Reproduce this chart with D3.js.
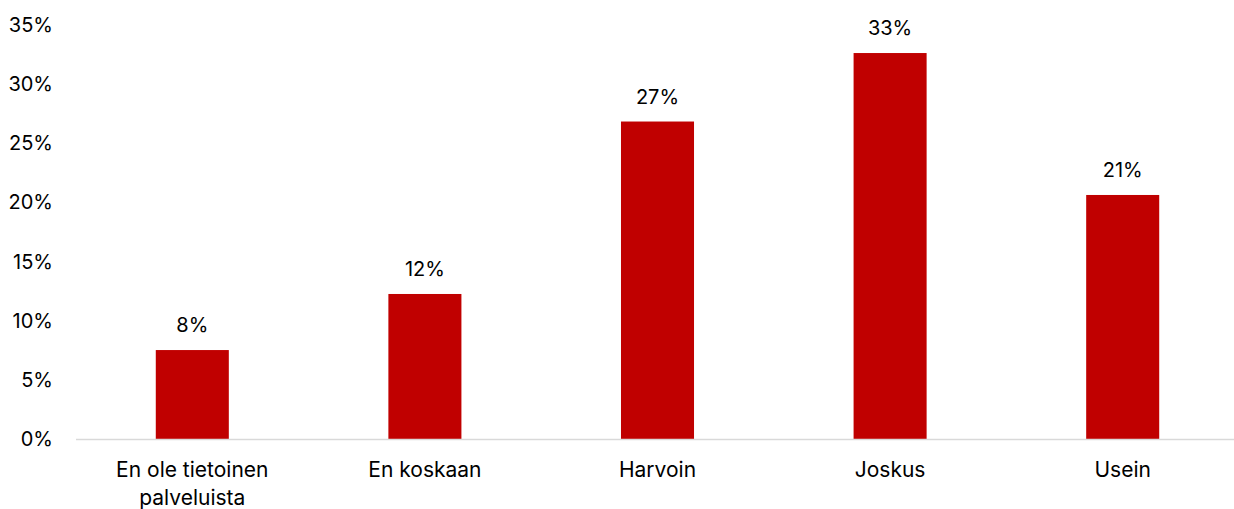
<!DOCTYPE html>
<html>
<head>
<meta charset="utf-8">
<script src="https://cdn.jsdelivr.net/npm/d3@7"></script>
<style>
  html, body { margin: 0; padding: 0; background: #fff; }
  svg { display: block; }
  text { font-family: Inter, "Liberation Sans", Arial, sans-serif; fill: #000; }
</style>
</head>
<body>
<svg id="chart" width="1234" height="509"></svg>
<script>
// Survey answers: how often the services are used
const categories = [["En ole tietoinen", "palveluista"], ["En koskaan"], ["Harvoin"], ["Joskus"], ["Usein"]];
const values = [0.0752, 0.1226, 0.2684, 0.3263, 0.2063];
const tickValues = [0, 0.05, 0.10, 0.15, 0.20, 0.25, 0.30, 0.35];

const svg = d3.select("#chart");
const W = 1234;

const x = d3.scaleBand()
  .domain(d3.range(categories.length))
  .range([76, 1239])
  .paddingInner(0.686)
  .paddingOuter(0.343);

const y = d3.scaleLinear()
  .domain([0, 0.35])
  .range([439, 25]);

const pct = d3.format(".0%");

// Y tick labels (no axis line or gridlines)
svg.append("g")
  .selectAll("text")
  .data(tickValues)
  .join("text")
  .attr("x", 53)
  .attr("y", d => y(d))
  .attr("dy", "0.35em")
  .attr("text-anchor", "end")
  .attr("font-size", 20)
  .text(d => pct(d));

// Bars
svg.append("g")
  .selectAll("rect")
  .data(values)
  .join("rect")
  .attr("x", (d, i) => x(i))
  .attr("width", x.bandwidth())
  .attr("y", d => y(d))
  .attr("height", d => y(0) - y(d))
  .attr("fill", "#c00000");

// Baseline
svg.append("line")
  .attr("x1", 76).attr("x2", W)
  .attr("y1", y(0) + 0.5).attr("y2", y(0) + 0.5)
  .attr("stroke", "#d9d9d9")
  .attr("stroke-width", 1.5);

// Value labels above the bars
svg.append("g")
  .selectAll("text")
  .data(values)
  .join("text")
  .attr("x", (d, i) => x(i) + x.bandwidth() / 2)
  .attr("y", d => y(d) - 25)
  .attr("dy", "0.35em")
  .attr("text-anchor", "middle")
  .attr("font-size", 20)
  .text(d => pct(d));

// Category labels
const cat = svg.append("g")
  .selectAll("text")
  .data(categories)
  .join("text")
  .attr("x", (d, i) => x(i) + x.bandwidth() / 2)
  .attr("y", 470)
  .attr("text-anchor", "middle")
  .attr("font-size", 21);

cat.selectAll("tspan")
  .data(d => d)
  .join("tspan")
  .attr("x", function () { return d3.select(this.parentNode).attr("x"); })
  .attr("dy", (d, i) => i === 0 ? "0.35em" : "28px")
  .text(d => d);
</script>
</body>
</html>
